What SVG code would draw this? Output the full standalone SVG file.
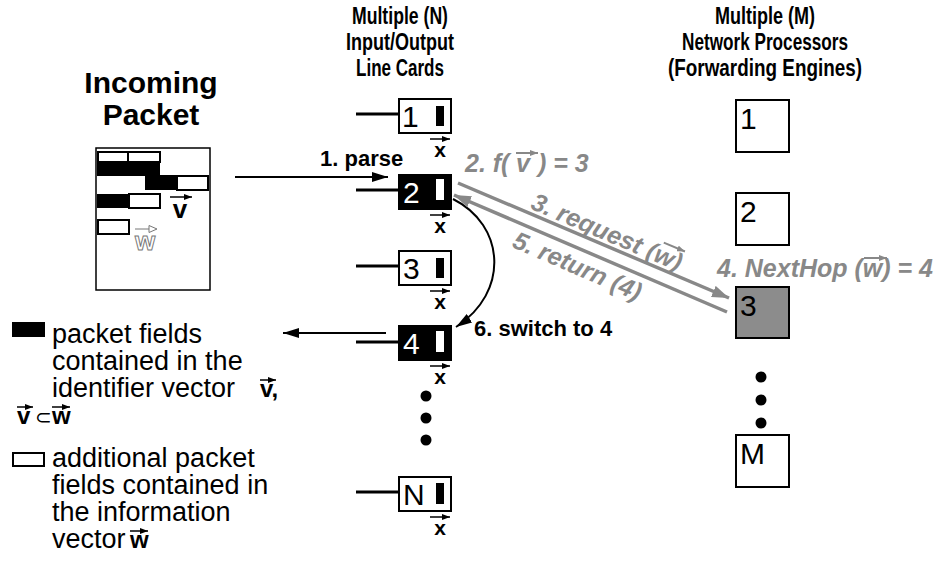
<svg xmlns="http://www.w3.org/2000/svg" width="936" height="565" viewBox="0 0 936 565">
<style>
text{font-family:"Liberation Sans",Arial,sans-serif}
.hd{font-size:23px;font-weight:bold;text-anchor:middle}
.ttl{font-size:30px;font-weight:bold;text-anchor:middle}
.lg{font-size:27px}
.num{font-size:30px}
.g{fill:#888;font-weight:bold;font-style:italic;font-size:25px}
.lbl{font-size:22px;font-weight:bold}
.card{fill:#fff;stroke:#000;stroke-width:2}
.cardk{fill:#000;stroke:#000;stroke-width:2}
.feed{stroke:#000;stroke-width:3}
.np{fill:#fff;stroke:#000;stroke-width:2}
.npg{fill:#8c8c8c;stroke:#000;stroke-width:2}
.fw{fill:#fff;stroke:#000;stroke-width:2}
.vec{stroke:#000;stroke-width:1.5;fill:none}
.vecg{stroke:#888;stroke-width:2;fill:none}
.conn{fill:none;stroke:#000;stroke-width:2}
.gconn{fill:none;stroke:#888;stroke-width:3.5}
</style>
<defs>
<marker id="ah" markerUnits="userSpaceOnUse" markerWidth="16" markerHeight="10" refX="16" refY="5" orient="auto"><path d="M0,0L16,5L0,10z" fill="#000"/></marker>
<marker id="ag" markerUnits="userSpaceOnUse" markerWidth="17" markerHeight="12" refX="17" refY="6" orient="auto"><path d="M0,0L17,6L0,12z" fill="#888"/></marker>
<marker id="vh" markerUnits="userSpaceOnUse" markerWidth="8" markerHeight="6" refX="8" refY="3" orient="auto"><path d="M0,0L8,3L0,6z" fill="#000"/></marker>
<marker id="vg" markerUnits="userSpaceOnUse" markerWidth="8" markerHeight="6" refX="8" refY="3" orient="auto"><path d="M0,0L8,3L0,6z" fill="#888"/></marker>
<g id="vx"><line class="vec" x1="-10" y1="0" x2="10" y2="0" marker-end="url(#vh)"/><text x="0" y="18" text-anchor="middle" font-weight="bold" font-size="21">x</text></g>
</defs>
<rect width="936" height="565" fill="#fff"/>

<!-- headers -->
<g id="hdr-lc">
<text class="hd" x="400" y="24" textLength="96" lengthAdjust="spacingAndGlyphs">Multiple (N)</text>
<text class="hd" x="400" y="50" textLength="108" lengthAdjust="spacingAndGlyphs">Input/Output</text>
<text class="hd" x="400" y="76" textLength="88" lengthAdjust="spacingAndGlyphs">Line Cards</text>
</g>
<g id="hdr-np">
<text class="hd" x="765" y="24" textLength="100" lengthAdjust="spacingAndGlyphs">Multiple (M)</text>
<text class="hd" x="765" y="50" textLength="166" lengthAdjust="spacingAndGlyphs">Network Processors</text>
<text class="hd" x="765" y="76" textLength="194" lengthAdjust="spacingAndGlyphs">(Forwarding Engines)</text>
</g>

<!-- incoming packet -->
<g id="packet">
<text class="ttl" x="151" y="93">Incoming</text>
<text class="ttl" x="151" y="125">Packet</text>
<rect x="96" y="148" width="114" height="142" fill="#fff" stroke="#000" stroke-width="1.5"/>
<rect class="fw" x="98" y="152" width="30" height="10"/>
<rect class="fw" x="128" y="152" width="32" height="10"/>
<rect x="97" y="162" width="63" height="14" fill="#000"/>
<rect x="145" y="175" width="32" height="15" fill="#000"/>
<rect class="fw" x="177" y="176" width="31" height="14"/>
<rect x="97" y="194" width="32" height="14" fill="#000"/>
<rect class="fw" x="129" y="194" width="31" height="14"/>
<rect class="fw" x="98" y="220" width="31" height="14"/>
<line class="vec" x1="170" y1="197" x2="192" y2="197" marker-end="url(#vh)"/>
<text x="180" y="218" text-anchor="middle" font-weight="bold" font-size="26">v</text>
<line x1="135" y1="229" x2="150" y2="229" stroke="#777" stroke-width="1"/>
<path d="M149,225.5L157,229L149,232.5z" fill="#fff" stroke="#777" stroke-width="1"/>
<text x="145" y="250" text-anchor="middle" font-weight="bold" font-size="26" fill="#fff" stroke="#777" stroke-width="1">w</text>
</g>

<!-- legend -->
<g id="legend">
<rect x="12" y="322" width="33" height="15" fill="#000"/>
<text class="lg" x="52" y="343">packet fields</text>
<text class="lg" x="52" y="370">contained in the</text>
<text class="lg" x="52" y="397">identifier vector</text>
<line class="vec" x1="260" y1="380" x2="276" y2="380" marker-end="url(#vh)"/>
<text x="260" y="397" font-weight="bold" font-size="24">v,</text>
<line class="vec" x1="17" y1="407" x2="33" y2="407" marker-end="url(#vh)"/>
<text x="17" y="424" font-weight="bold" font-size="24">v</text>
<text x="35" y="424" font-size="20">⊂</text>
<line class="vec" x1="52" y1="407" x2="70" y2="407" marker-end="url(#vh)"/>
<text x="52" y="424" font-weight="bold" font-size="24">w</text>
<rect x="13" y="453" width="31" height="13" fill="#fff" stroke="#000" stroke-width="2"/>
<text class="lg" x="52" y="467">additional packet</text>
<text class="lg" x="52" y="494">fields contained in</text>
<text class="lg" x="52" y="521">the information</text>
<text class="lg" x="52" y="548">vector</text>
<line class="vec" x1="130" y1="531" x2="148" y2="531" marker-end="url(#vh)"/>
<text x="130" y="548" font-weight="bold" font-size="24">w</text>
</g>

<!-- line cards -->
<g id="lc1">
<line class="feed" x1="356" y1="114" x2="399" y2="114"/>
<rect class="card" x="399" y="99" width="52" height="34"/>
<text class="num" x="402" y="127">1</text>
<rect x="436" y="106" width="8" height="20" fill="#000"/>
<use href="#vx" x="440" y="139"/>
</g>
<g id="lc2">
<line class="feed" x1="356" y1="190" x2="399" y2="190"/>
<rect class="cardk" x="399" y="175" width="52" height="34"/>
<text class="num" x="403" y="203" fill="#fff">2</text>
<rect x="436" y="179" width="8" height="21" fill="#fff"/>
<use href="#vx" x="440" y="215"/>
</g>
<g id="lc3">
<line class="feed" x1="356" y1="266" x2="399" y2="266"/>
<rect class="card" x="399" y="251" width="52" height="34"/>
<text class="num" x="403" y="279">3</text>
<rect x="436" y="258" width="8" height="20" fill="#000"/>
<use href="#vx" x="440" y="291"/>
</g>
<g id="lc4">
<line class="feed" x1="356" y1="342" x2="399" y2="342"/>
<rect class="cardk" x="399" y="326" width="52" height="34"/>
<text class="num" x="403" y="354" fill="#fff">4</text>
<rect x="436" y="331" width="8" height="21" fill="#fff"/>
<use href="#vx" x="440" y="366"/>
</g>
<g id="lc-dots">
<circle cx="426" cy="396" r="5.5"/>
<circle cx="426" cy="418" r="5.5"/>
<circle cx="426" cy="440" r="5.5"/>
</g>
<g id="lcN">
<line class="feed" x1="356" y1="492" x2="399" y2="492"/>
<rect class="card" x="399" y="477" width="52" height="34"/>
<text class="num" x="403" y="505">N</text>
<rect x="436" y="483" width="8" height="21" fill="#000"/>
<use href="#vx" x="440" y="517"/>
</g>

<!-- network processors -->
<g id="np1"><rect class="np" x="736" y="100" width="53" height="52"/><text class="num" x="740" y="129">1</text></g>
<g id="np2"><rect class="np" x="736" y="193" width="53" height="52"/><text class="num" x="740" y="222">2</text></g>
<g id="np3"><rect class="npg" x="736" y="287" width="53" height="51"/><text class="num" x="740" y="316">3</text></g>
<g id="np-dots">
<circle cx="761" cy="377" r="5.5"/>
<circle cx="761" cy="400" r="5.5"/>
<circle cx="761" cy="423" r="5.5"/>
</g>
<g id="npM"><rect class="np" x="736" y="435" width="53" height="52"/><text class="num" x="740" y="464">M</text></g>

<!-- connectors -->
<g id="connectors">
<line class="conn" x1="235" y1="177" x2="388" y2="177" marker-end="url(#ah)"/>
<line class="conn" x1="386" y1="333" x2="283" y2="333" marker-end="url(#ah)"/>
<path class="conn" d="M453,199 C505,225 510,292 456,327" marker-end="url(#ah)"/>
<line class="gconn" x1="458" y1="183" x2="729" y2="298" marker-end="url(#ag)"/>
<line class="gconn" x1="727" y1="312" x2="454" y2="195" marker-end="url(#ag)"/>
</g>

<!-- labels -->
<g id="labels">
<text class="lbl" x="320" y="166">1. parse</text>
<text class="lbl" x="474" y="336">6. switch to 4</text>
<text class="g" x="465" y="172">2. f(<tspan x="516">v</tspan><tspan x="538">) = 3</tspan></text>
<line class="vecg" x1="516" y1="153" x2="538" y2="153" marker-end="url(#vg)"/>
<g transform="translate(603,245) rotate(23)">
<text class="g" x="-82" y="-5">3. request (w)</text>
<line class="vecg" x1="55" y1="-26" x2="78" y2="-26" marker-end="url(#vg)"/>
</g>
<g transform="translate(584,251) rotate(23.3)">
<text class="g" x="0" y="25" text-anchor="middle">5. return (4)</text>
</g>
<text class="g" x="717" y="277">4. NextHop (w) = 4</text>
<line class="vecg" x1="864" y1="258" x2="887" y2="258" marker-end="url(#vg)"/>
</g>
</svg>
